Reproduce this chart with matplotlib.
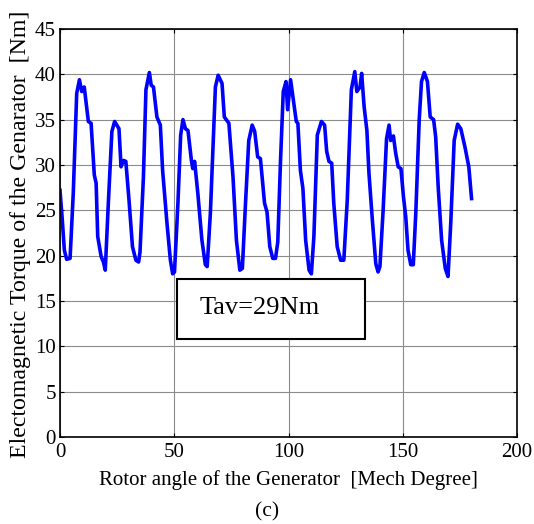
import matplotlib
matplotlib.use("Agg")
import matplotlib.pyplot as plt
from matplotlib.patches import Rectangle

# rotor angle [mech degree]
angle = [0.0, 1.0, 1.9, 2.9, 4.4, 5.8, 7.3, 8.5, 9.5, 10.6, 12.4, 13.6, 15.0, 15.8,
         16.5, 18.0, 19.0, 19.8, 21.2, 22.7, 23.9, 25.8, 26.7, 27.8, 28.8, 30.2,
         31.7, 33.2, 34.4, 35.0, 36.5, 37.6, 39.1, 39.9, 40.9, 42.4, 43.9, 44.9,
         46.8, 48.3, 49.3, 50.1, 51.6, 52.8, 53.8, 54.9, 56.0, 57.5, 58.1, 58.9,
         60.3, 62.1, 63.6, 64.4, 65.8, 68.0, 69.2, 70.9, 71.9, 73.9, 75.7, 77.2,
         78.7, 79.8, 81.1, 82.6, 84.1, 85.2, 86.5, 87.7, 89.5, 90.6, 91.8, 93.1,
         94.3, 95.3, 96.5, 97.7, 98.9, 99.6, 100.9, 102.1, 103.4, 104.1, 105.2,
         106.3, 107.5, 109.0, 110.0, 111.1, 112.6, 114.4, 115.8, 116.7, 117.7,
         118.9, 119.8, 121.3, 122.8, 124.2, 125.7, 127.5, 129.0, 129.9, 131.3,
         132.0, 133.1, 134.3, 135.2, 136.7, 138.2, 139.2, 140.0, 141.4, 142.9,
         144.0, 144.7, 145.9, 146.9, 148.0, 149.2, 150.3, 151.3, 152.3, 153.5,
         154.6, 155.7, 157.2, 158.2, 159.4, 160.8, 162.0, 163.5, 164.4, 165.5,
         167.0, 168.6, 169.8, 171.0, 172.5, 174.0, 175.4, 177.2, 178.9, 180.1]

# electromagnetic torque [Nm]
torque = [27.2, 23.9, 20.6, 19.6, 19.7, 26.9, 37.9, 39.4, 38.1, 38.6, 34.8, 34.6,
          28.9, 28.0, 22.1, 19.9, 19.3, 18.4, 26.1, 33.7, 34.8, 34.0, 29.8, 30.5,
          30.4, 26.1, 21.0, 19.5, 19.3, 20.4, 28.7, 38.3, 40.2, 38.8, 38.6, 35.3,
          34.4, 29.4, 23.6, 19.5, 18.0, 18.2, 25.8, 33.3, 35.0, 34.0, 33.8, 30.5,
          29.6, 30.4, 26.9, 21.7, 19.0, 18.8, 24.7, 38.6, 39.9, 39.0, 35.3, 34.6,
          28.7, 21.7, 18.4, 18.6, 25.4, 32.7, 34.4, 33.7, 30.9, 30.7, 25.8, 24.8,
          21.0, 19.7, 19.7, 21.5, 30.5, 38.1, 39.2, 36.1, 39.4, 37.2, 34.8, 34.6,
          29.4, 27.4, 21.7, 18.4, 18.0, 22.1, 33.3, 34.8, 34.4, 31.5, 30.4, 30.2,
          25.8, 21.0, 19.5, 19.5, 26.1, 38.3, 40.3, 38.1, 38.6, 40.1, 36.4, 33.8,
          29.1, 23.9, 19.1, 18.2, 18.8, 25.0, 32.9, 34.4, 32.7, 33.2, 31.3, 29.8,
          29.6, 26.5, 24.3, 20.6, 19.0, 19.0, 24.7, 35.0, 39.2, 40.2, 39.2, 35.3,
          35.0, 33.1, 27.6, 21.7, 18.6, 17.7, 23.6, 32.7, 34.5, 34.0, 32.0, 29.8,
          26.3]

xticks = [0, 50, 100, 150, 200]
yticks = [0, 5, 10, 15, 20, 25, 30, 35, 40, 45]

plt.rcParams['font.family'] = ['Liberation Serif', 'DejaVu Serif']

fig = plt.figure(figsize=(5.34, 5.24), dpi=100)
ax = fig.add_axes([0.1124, 0.166, 0.8558, 0.7787])

ax.plot(angle, torque, color='#0000ff', linewidth=2.6)

ax.set_xlim(0, 200)
ax.set_ylim(0, 45)
ax.set_xticks(xticks)
ax.set_yticks(yticks)
ax.tick_params(direction='in', top=True, right=True, labelsize=15, length=3)
ax.tick_params(axis='x', pad=4)
ax.tick_params(axis='y', pad=3)
ax.grid(True, color='0.55', linewidth=0.8)
for s in ax.spines.values():
    s.set_linewidth(1.2)

ax.set_xlabel('Rotor angle of the Generator  [Mech Degree]', fontsize=15, labelpad=6)
ax.set_ylabel('Electomagnetic Torque of the Genarator  [Nm]', fontsize=17.2, labelpad=0)
ax.yaxis.set_label_coords(-0.064, 0.497)

# annotation box with average torque
box = Rectangle((51.1, 10.8), 82.4, 6.6, facecolor='white', edgecolor='black',
                linewidth=1.5, zorder=3)
ax.add_patch(box)
ax.text(87.5, 14.2, 'Tav=29Nm', fontsize=19, ha='center', va='center', zorder=4)

fig.text(0.5, 0.024, '(c)', fontsize=15.5, ha='center', va='center')

fig.savefig('out.png', dpi=100)
